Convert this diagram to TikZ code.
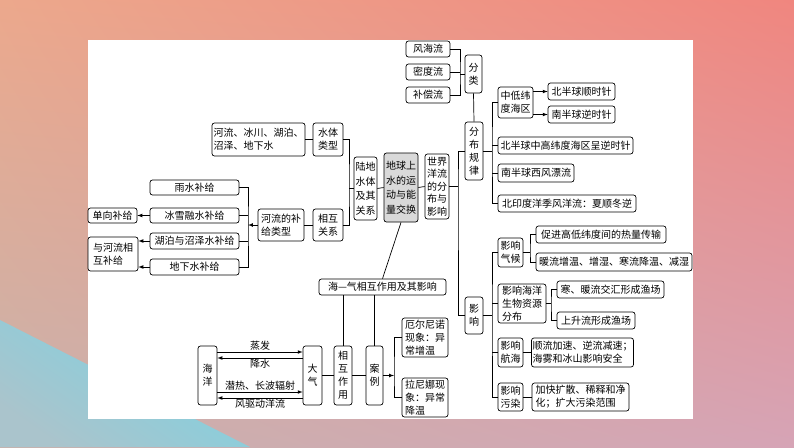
\documentclass[tikz,border=0pt]{standalone}
\usepackage{fontspec}
\setmainfont{Noto Sans CJK SC}
\usepackage{tikz}
\usetikzlibrary{positioning, calc, arrows, shapes, shadings}
\definecolor{bgUL}{RGB}{236,168,140}
\definecolor{bgUR}{RGB}{240,134,127}
\definecolor{bgLL}{RGB}{200,178,172}
\definecolor{bgLR}{RGB}{214,164,182}
\definecolor{bgTeal}{RGB}{124,210,226}
\definecolor{bgTealB}{RGB}{170,196,204}
\definecolor{keygray}{RGB}{217,217,217}
\tikzset{box/.style={draw, rounded corners=2.5pt, inner sep=1pt, align=center, line width=0.7pt,
    font=\fontsize{10}{13}\selectfont}}
\tikzset{link/.style={line width=0.7pt}}
\tikzset{flow/.style={line width=0.7pt, -latex}}
\tikzset{lbl/.style={font=\fontsize{10}{12}\selectfont, inner sep=1pt}}

\begin{document}
\begin{tikzpicture}[x=1pt, y=-1pt]
      \useasboundingbox (0,0) rectangle (794,447);
      \shade[upper left=bgUL, upper right=bgUR, lower left=bgLL, lower right=bgLR] (0,0) rectangle (794,447);
      \shade[left color=bgTeal, right color=bgTealB, shading angle=-35] (0,320) -- (0,447) -- (250,447) -- cycle;
      \fill[white] (88,40) rectangle (693,419);

      \node[box, minimum width=44pt, minimum height=16pt] (wind) at (428,49) {风海流};
      \node[box, minimum width=44pt, minimum height=16pt] (dens) at (428,72) {密度流};
      \node[box, minimum width=44pt, minimum height=16pt] (comp) at (428,95) {补偿流};
      \node[box, minimum width=17pt, minimum height=38pt] (cls) at (473.5,74) {分\\类};
      \node[box, minimum width=18pt, minimum height=58pt] (dist) at (474,151) {分\\布\\规\\律};

      \node[box, minimum width=35pt, minimum height=31pt] (lowlat) at (515.5,102.5) {中低纬\\度海区};
      \node[box, minimum width=67pt, minimum height=17pt] (nh) at (581.5,91.5) {北半球顺时针};
      \node[box, minimum width=67pt, minimum height=17pt] (sh) at (581.5,114.5) {南半球逆时针};
      \node[box, minimum width=135pt, minimum height=17pt] (midhigh) at (565.5,145.5) {北半球中高纬度海区呈逆时针};
      \node[box, minimum width=76pt, minimum height=18pt] (westw) at (536,173) {南半球西风漂流};
      \node[box, minimum width=138pt, minimum height=17pt] (monsoon) at (567,203.5) {北印度洋季风洋流：夏顺冬逆};

      \node[box, minimum width=24pt, minimum height=65pt, font=\fontsize{10}{12.6}\selectfont] (world) at (437,186.5) {世界\\洋流\\的分\\布与\\影响};
      \node[box, fill=keygray, minimum width=34pt, minimum height=69pt, font=\fontsize{10}{14.5}\selectfont] (earth) at (401,187.5) {地球上\\水的运\\动与能\\量交换};
      \node[box, minimum width=23pt, minimum height=63pt, font=\fontsize{10}{14.5}\selectfont] (land) at (365.5,188.5) {陆地\\水体\\及其\\关系};

      \node[box, align=left, minimum width=93pt, minimum height=33pt] (kinds) at (258.5,139.5) {河流、冰川、湖泊、\\沼泽、地下水};
      \node[box, minimum width=30pt, minimum height=33pt] (wtype) at (328,139.5) {水体\\类型};
      \node[box, minimum width=30pt, minimum height=32pt] (rel) at (328,225) {相互\\关系};
      \node[box, align=left, minimum width=46pt, minimum height=32pt] (rsup) at (281,225) {河流的补\\给类型};

      \node[box, minimum width=89pt, minimum height=15pt] (rain) at (194.5,187.5) {雨水补给};
      \node[box, minimum width=89pt, minimum height=15pt] (snow) at (194.5,215.5) {冰雪融水补给};
      \node[box, minimum width=89pt, minimum height=16pt] (lake) at (194.5,241) {湖泊与沼泽水补给};
      \node[box, minimum width=89pt, minimum height=16pt] (ground) at (194.5,267) {地下水补给};
      \node[box, minimum width=49pt, minimum height=15pt] (oneway) at (112.5,215.5) {单向补给};
      \node[box, align=left, minimum width=50pt, minimum height=34pt] (mutual) at (113,254) {与河流相\\互补给};

      \node[box, minimum width=127pt, minimum height=16pt] (sea) at (382.5,287) {海—气相互作用及其影响};
      \node[box, minimum width=19pt, minimum height=59pt] (ocean) at (207.5,375.5) {海\\洋};
      \node[box, minimum width=19pt, minimum height=59pt] (atmo) at (312.5,375.5) {大\\气};
      \node[box, minimum width=18pt, minimum height=59pt] (inter) at (343,375.5) {相\\互\\作\\用};
      \node[box, minimum width=17pt, minimum height=59pt] (cases) at (374.5,375.5) {案\\例};
      \node[box, align=left, minimum width=46pt, minimum height=39pt] (elnino) at (425,337.5) {厄尔尼诺\\现象：异\\常增温};
      \node[box, align=left, minimum width=46pt, minimum height=39pt] (lanina) at (425,397.5) {拉尼娜现\\象：异常\\降温};

      \node[box, minimum width=18pt, minimum height=37pt] (impact) at (474,315.5) {影\\响};
      \node[box, minimum width=25pt, minimum height=29pt] (clim) at (510.5,252.5) {影响\\气候};
      \node[box, minimum width=130pt, minimum height=17pt] (heat) at (601,234.5) {促进高低纬度间的热量传输};
      \node[box, minimum width=156pt, minimum height=18pt] (warm) at (614,262) {暖流增温、增湿、寒流降温、减湿};
      \node[box, align=left, minimum width=48pt, minimum height=39pt] (bio) at (522,303.5) {影响海洋\\生物资源\\分布};
      \node[box, minimum width=107pt, minimum height=17pt] (fish1) at (610.5,289.5) {寒、暖流交汇形成渔场};
      \node[box, minimum width=78pt, minimum height=17pt] (fish2) at (596,320.5) {上升流形成渔场};
      \node[box, minimum width=25pt, minimum height=29pt] (nav) at (510.5,352.5) {影响\\航海};
      \node[box, align=left, minimum width=101pt, minimum height=29pt] (navt) at (582.5,352.5) {顺流加速、逆流减速；\\海雾和冰山影响安全};
      \node[box, minimum width=25pt, minimum height=28pt] (pol) at (510.5,397) {影响\\污染};
      \node[box, align=left, minimum width=97pt, minimum height=28pt] (polt) at (580.5,397) {加快扩散、稀释和净\\化；扩大污染范围};

      \coordinate (bk1) at (460,74);
      \coordinate (bk2) at (492,151);
      \coordinate (bk3) at (458,186.5);
      \coordinate (bk4) at (349,188.5);
      \coordinate (bk5) at (248,225);
      \coordinate (bk6) at (394,375.5);
      \coordinate (bk7) at (492,315.5);
      \coordinate (bk8) at (530,252.5);
      \coordinate (bk9) at (551,303.5);

      \draw[link] (wind.east) -| (bk1) |- (comp.east);
      \draw[link] (dens.east) -- (dens.east -| bk1);
      \draw[link] (bk1) -- (cls.west);
      \draw[link] (cls.south) -- (dist.north);
      \draw[link] (dist.east) -- (bk2);
      \draw[link] (lowlat.west) -| (bk2) |- (monsoon.west);
      \draw[link] (midhigh.west) -- (midhigh.west -| bk2);
      \draw[link] (westw.west) -- (westw.west -| bk2);
      \draw[flow] (lowlat.east |- nh.west) -- (nh.west);
      \draw[flow] (lowlat.east |- sh.west) -- (sh.west);

      \draw[link] (dist.west) -| (bk3) |- (impact.west);
      \draw[link] (world.east) -- (bk3);
      \draw[link] (earth.east) -- (world.west);
      \draw[link] (land.east) -- (earth.west);
      \draw[link] (land.west) -- (bk4);
      \draw[link] (wtype.east) -| (bk4) |- (rel.east);
      \draw[link] (kinds.east) -- (wtype.west);
      \draw[link] (rsup.east) -- (rel.west);

      \draw[flow] (rsup.west) -- (bk5);
      \draw[link] (rain.east) -| (bk5) |- (ground.east);
      \draw[link] (snow.east) -- (snow.east -| bk5);
      \draw[link] (lake.east) -- (lake.east -| bk5);
      \draw[flow] (snow.west) -- (oneway.east);
      \draw[flow] (lake.west) -- (lake.west -| mutual.east);
      \draw[flow] (ground.west) -- (ground.west -| mutual.east);

      \draw[link] (earth.south) -- (sea.north);
      \draw[link] (inter.north) -- (inter.north |- sea.south);
      \draw[link] (cases.north) -- (cases.north |- sea.south);
      \draw[link] (atmo.east) -- (inter.west);
      \draw[link] (inter.east) -- (cases.west);
      \draw[flow] (cases.east) -- (bk6);
      \draw[link] (elnino.west) -| (bk6) |- (lanina.west);

      \draw[flow] ($(ocean.east)+(0,-23.5)$) -- node[lbl, above] {蒸发} ($(atmo.west)+(0,-23.5)$);
      \draw[flow] ($(atmo.west)+(0,-17.5)$) -- node[lbl, below] {降水} ($(ocean.east)+(0,-17.5)$);
      \draw[flow] ($(ocean.east)+(0,16.5)$) -- node[lbl, above] {潜热、长波辐射} ($(atmo.west)+(0,16.5)$);
      \draw[flow] ($(atmo.west)+(0,22.5)$) -- node[lbl, below] {风驱动洋流} ($(ocean.east)+(0,22.5)$);

      \draw[link] (impact.east) -- (bk7);
      \draw[link] (clim.west) -| (bk7) |- (pol.west);
      \draw[link] (bio.west) -- (bio.west -| bk7);
      \draw[link] (nav.west) -- (nav.west -| bk7);
      \draw[link] (clim.east) -- (bk8);
      \draw[link] (heat.west) -| (bk8) |- (warm.west);
      \draw[link] (bio.east) -- (bk9);
      \draw[link] (fish1.west) -| (bk9) |- (fish2.west);
      \draw[link] (nav.east) -- (navt.west);
      \draw[link] (pol.east) -- (polt.west);
    \end{tikzpicture}
\end{document}
